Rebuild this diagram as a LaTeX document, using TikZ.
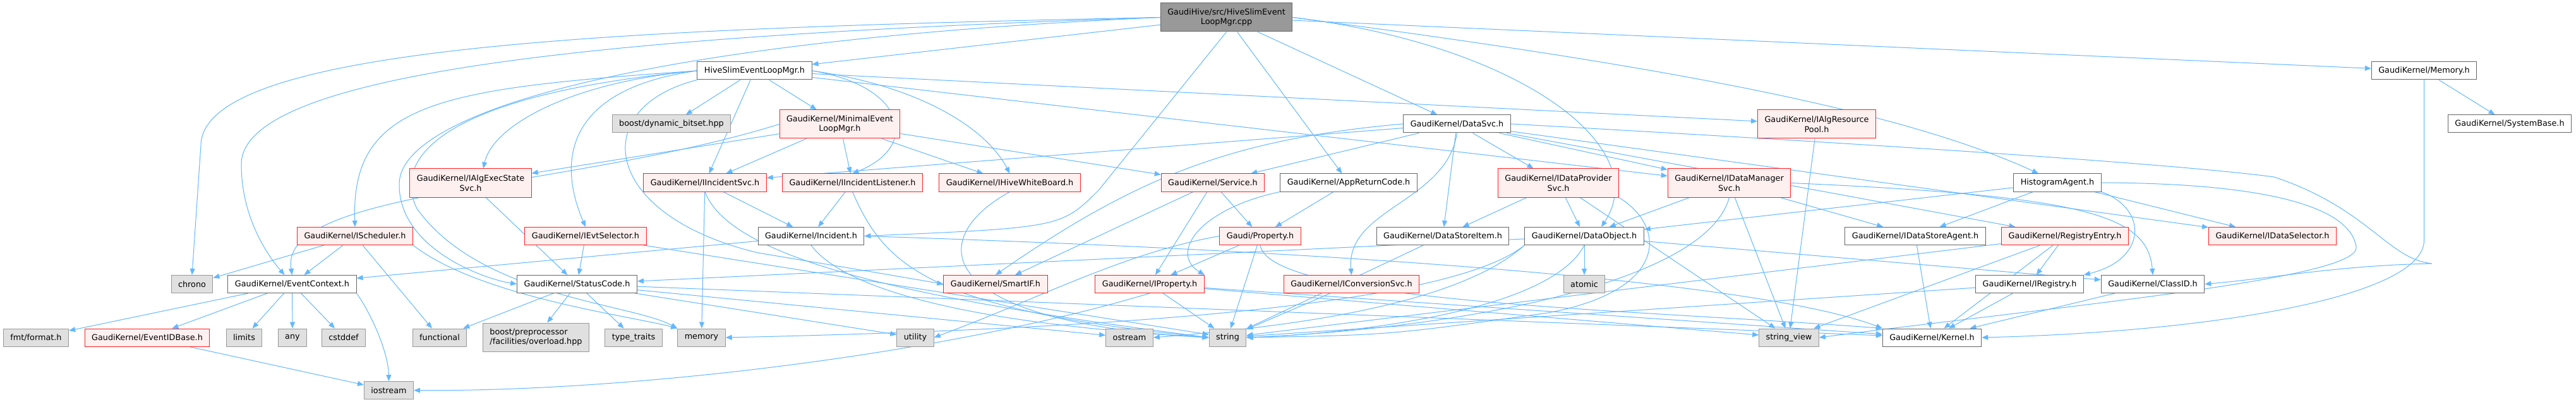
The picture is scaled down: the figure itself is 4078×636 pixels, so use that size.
\documentclass[tikz,border=0pt]{standalone}
\usepackage{fontspec}
\setmainfont{DejaVu Sans}
\usetikzlibrary{arrows.meta,backgrounds}
\definecolor{depblue}{HTML}{63B8FF}
\definecolor{truncline}{HTML}{FF2020}
\definecolor{truncfill}{HTML}{FFF0F0}
\definecolor{sysfill}{HTML}{E0E0E0}
\definecolor{sysline}{HTML}{999999}
\definecolor{hdrline}{HTML}{666666}

\begin{document}
\begin{tikzpicture}[x=1pt,y=1pt,
    box/.style={draw,rectangle,line width=1pt,minimum height=28pt,
                inner xsep=11pt,inner ysep=3pt,align=center,
                font=\fontsize{12.8}{15.5}\selectfont},
    twoline/.style={minimum height=45pt},
    mainf/.style={box,fill=sysline,draw=hdrline},
    hdr/.style={box,fill=white,draw=hdrline},
    trunc/.style={box,fill=truncfill,draw=truncline},
    sys/.style={box,fill=sysfill,draw=sysline},
    dep/.style={draw=depblue,line width=1pt,-{Triangle[length=10pt,width=8pt]}}]
  % rows of the include graph
  \node[mainf,twoline] (cpp) at (1941.5,-27.5) {GaudiHive/src/HiveSlimEvent\\LoopMgr.cpp};
  \node[hdr] (hive) at (1194.5,-112) {HiveSlimEventLoopMgr.h};
  \node[hdr] (memh) at (3837.5,-112) {GaudiKernel/Memory.h};
  \node[sys] (bitset) at (1063,-196) {boost/dynamic\_bitset.hpp};
  \node[trunc,twoline] (minimal) at (1329.5,-196.5) {GaudiKernel/MinimalEvent\\LoopMgr.h};
  \node[hdr] (datasvc) at (2306.5,-196) {GaudiKernel/DataSvc.h};
  \node[trunc,twoline] (algpool) at (2876,-196.5) {GaudiKernel/IAlgResource\\Pool.h};
  \node[hdr] (sysbase) at (3973,-196) {GaudiKernel/SystemBase.h};
  \node[trunc,twoline] (algexec) at (745,-289.5) {GaudiKernel/IAlgExecState\\Svc.h};
  \node[trunc] (incsvc) at (1116,-289) {GaudiKernel/IIncidentSvc.h};
  \node[trunc] (inclist) at (1349.5,-289) {GaudiKernel/IIncidentListener.h};
  \node[trunc] (wboard) at (1598.5,-289) {GaudiKernel/IHiveWhiteBoard.h};
  \node[trunc] (service) at (1920,-289) {GaudiKernel/Service.h};
  \node[hdr] (appret) at (2135,-289) {GaudiKernel/AppReturnCode.h};
  \node[trunc,twoline] (dataprov) at (2467,-289.5) {GaudiKernel/IDataProvider\\Svc.h};
  \node[trunc,twoline] (datamgr) at (2737.5,-289.5) {GaudiKernel/IDataManager\\Svc.h};
  \node[hdr] (histagent) at (3257,-289) {HistogramAgent.h};
  \node[trunc] (sched) at (562,-373.5) {GaudiKernel/IScheduler.h};
  \node[trunc] (evtsel) at (927,-373.5) {GaudiKernel/IEvtSelector.h};
  \node[hdr] (incident) at (1284,-373.5) {GaudiKernel/Incident.h};
  \node[trunc] (prop) at (1995,-373.5) {Gaudi/Property.h};
  \node[hdr] (storeitem) at (2284,-373.5) {GaudiKernel/DataStoreItem.h};
  \node[hdr] (dataobj) at (2508,-373.5) {GaudiKernel/DataObject.h};
  \node[hdr] (storeagent) at (3032,-373.5) {GaudiKernel/IDataStoreAgent.h};
  \node[trunc] (regentry) at (3269,-373.5) {GaudiKernel/RegistryEntry.h};
  \node[trunc] (datasel) at (3597.5,-373.5) {GaudiKernel/IDataSelector.h};
  \node[sys] (chrono) at (304,-449.5) {chrono};
  \node[hdr] (evctx) at (462.5,-449.5) {GaudiKernel/EventContext.h};
  \node[hdr] (stcode) at (913.5,-449.5) {GaudiKernel/StatusCode.h};
  \node[trunc] (smartif) at (1576,-449.5) {GaudiKernel/SmartIF.h};
  \node[trunc] (iprop) at (1820,-449.5) {GaudiKernel/IProperty.h};
  \node[trunc] (convsvc) at (2139.5,-449.5) {GaudiKernel/IConversionSvc.h};
  \node[sys] (atomic) at (2508,-449.5) {atomic};
  \node[hdr] (iregistry) at (3213,-449.5) {GaudiKernel/IRegistry.h};
  \node[hdr] (classid) at (3408,-449.5) {GaudiKernel/ClassID.h};
  \node[sys] (fmt) at (57,-534) {fmt/format.h};
  \node[trunc] (evidbase) at (233,-534) {GaudiKernel/EventIDBase.h};
  \node[sys] (limits) at (386.5,-534) {limits};
  \node[sys] (any) at (463,-534) {any};
  \node[sys] (cstddef) at (544,-534) {cstddef};
  \node[sys] (functional) at (696,-534) {functional};
  \node[sys,twoline,align=left] (boostpp) at (848.5,-533.5) {boost/preprocessor\\/facilities/overload.hpp};
  \node[sys] (typetraits) at (1003,-534) {type\_traits};
  \node[sys] (memory) at (1110.5,-534) {memory};
  \node[sys] (utility) at (1449,-534) {utility};
  \node[sys] (ostream) at (1788,-534) {ostream};
  \node[sys] (string) at (1943.5,-534) {string};
  \node[sys] (strview) at (2832,-534) {string\_view};
  \node[hdr] (kernel) at (3058.5,-534) {GaudiKernel/Kernel.h};
  \node[sys] (iostream) at (615.5,-617.5) {iostream};

  \begin{scope}[on background layer]
  \path[fill=white] (0,0) rectangle (4078,-636);
  % straight dependencies
  \foreach \a/\b in {cpp/hive,cpp/appret,cpp/datasvc,cpp/memh,
      hive/bitset,hive/minimal,hive/incsvc,hive/datamgr,hive/algpool,
      minimal/algexec,minimal/incsvc,minimal/inclist,minimal/wboard,minimal/service,
      algexec/stcode,sched/chrono,sched/evctx,sched/functional,
      evctx/fmt,evctx/evidbase,evctx/limits,evctx/any,evctx/cstddef,evidbase/iostream,
      evtsel/stcode,evtsel/string,
      stcode/functional,stcode/boostpp,stcode/typetraits,stcode/utility,stcode/ostream,stcode/kernel,
      incsvc/incident,incsvc/memory,inclist/incident,incident/evctx,
      service/smartif,service/iprop,service/prop,appret/prop,
      prop/iprop,prop/string,iprop/string,iprop/strview,iprop/kernel,convsvc/string,
      datasvc/incsvc,datasvc/service,datasvc/storeitem,datasvc/dataprov,datasvc/datamgr,
      datasvc/regentry,datasvc/datasel,storeitem/string,
      dataprov/storeitem,dataprov/dataobj,dataprov/strview,
      dataobj/atomic,dataobj/classid,dataobj/stcode,
      datamgr/dataobj,datamgr/storeagent,datamgr/strview,storeagent/kernel,
      regentry/iregistry,regentry/kernel,regentry/strview,regentry/string,
      iregistry/kernel,iregistry/string,classid/kernel,
      histagent/dataobj,histagent/storeagent,histagent/datasel,
      memh/sysbase,algpool/strview}
    \draw[dep] (\a) -- (\b);

  % curved dependencies
  \draw[dep] (cpp.west) .. controls (1000,-45) and (320,-70) .. (318,-230) -- (chrono.north);
  \draw[dep] (cpp.west) .. controls (1000,-55) and (382,-110) .. (382,-260)
             .. controls (382,-340) and (420,-400) .. ([xshift=-12pt]evctx.north);
  \draw[dep] (cpp.west) .. controls (1000,-65) and (635,-180) .. (632,-290)
             .. controls (630,-390) and (760,-440) .. (stcode.west);
  \draw[dep] (cpp.south) -- (1740,-300) .. controls (1680,-360) .. (incident.east);
  \draw[dep] (cpp.east) .. controls (2400,-70) and (2620,-230) .. ([xshift=27pt]dataobj.north);
  \draw[dep] (cpp.east) .. controls (2600,-100) and (3000,-170) .. ([xshift=-30pt]histagent.north);
  \draw[dep] (hive.west) .. controls (900,-130) and (780,-200) .. ([xshift=20pt]algexec.north);
  \draw[dep] (hive.west) .. controls (700,-140) and (555,-160) .. (sched.north);
  \draw[dep] (hive.west) .. controls (700,-150) and (620,-250) .. (660,-330)
             .. controls (760,-470) and (1000,-480) .. (memory.north west);
  \draw[dep] (hive.west) .. controls (900,-140) and (880,-250) .. (evtsel.north);
  \draw[dep] (hive.south west) .. controls (930,-170) and (950,-340) .. (1200,-400)
             .. controls (1380,-430) .. (smartif.west);
  \draw[dep] (hive.east) .. controls (1430,-135) and (1460,-230) .. (inclist.north);
  \draw[dep] (hive.east) .. controls (1450,-135) and (1560,-200) .. (wboard.north);
  \draw[dep] (minimal.west) .. controls (900,-300) and (440,-300) .. (evctx.north);
  \draw[dep] (sched.south east) .. controls (760,-470) and (1000,-500) .. (memory.north west);
  \draw[dep] (evctx.south east) .. controls (590,-500) and (615,-560) .. (iostream.north);
  \draw[dep] (incsvc.south) .. controls (1160,-420) and (1500,-480) .. (string.west);
  \draw[dep] (inclist.south) .. controls (1400,-420) and (1470,-490) .. (string.west);
  \draw[dep] (incident.south) .. controls (1330,-450) and (1500,-510) .. (string.west);
  \draw[dep] (incident.east) .. controls (2200,-400) and (2800,-450) .. (kernel.north west);
  \draw[dep] (wboard.south) .. controls (1460,-380) and (1480,-510) .. (string.west);
  \draw[dep] (appret.south west) .. controls (1900,-330) and (1850,-400) .. (iprop.north east);
  \draw[dep] (prop.west) .. controls (1780,-400) and (1650,-470) .. (utility.east);
  \draw[dep] (prop.south) .. controls (2010,-480) and (2600,-490) .. (kernel.north west);
  \draw[dep] (iprop.south) .. controls (1500,-560) and (1000,-620) .. (iostream.east);
  \draw[dep] (datasvc.west) .. controls (1950,-220) and (1800,-280) .. (smartif.north);
  \draw[dep] (datasvc.south) .. controls (2290,-320) and (2130,-330) .. (convsvc.north);
  \draw[dep] (datasvc.east) .. controls (3000,-230) and (3450,-260) .. (3600,-280)
             .. controls (3750,-330) and (3780,-410) .. (3850,-417)
             .. controls (3700,-420) and (3600,-440) .. (classid.east);
  \draw[dep] (dataprov.south east) .. controls (2640,-360) and (2640,-460) .. (2450,-495)
             .. controls (2200,-530) .. (string.east);
  \draw[dep] (dataobj.south west) .. controls (2300,-480) and (1800,-520) .. (memory.east);
  \draw[dep] (dataobj.south west) .. controls (2300,-490) and (2000,-520) .. (ostream.east);
  \draw[dep] (dataobj.south) .. controls (2450,-500) and (2100,-530) .. (string.east);
  \draw[dep] (datamgr.south) .. controls (2700,-450) and (2300,-520) .. (string.east);
  \draw[dep] (datamgr.east) .. controls (3300,-310) and (3400,-340) .. (classid.north);
  \draw[dep] (histagent.south east) .. controls (3400,-330) and (3400,-410) .. (iregistry.north east);
  \draw[dep] (histagent.east) .. controls (3600,-290) and (3720,-330) .. (3730,-390)
             .. controls (3740,-440) and (3300,-480) .. (strview.east);
  \draw[dep] (memh.south) -- (3837.5,-380) .. controls (3837.5,-470) and (3500,-525) .. (kernel.east);
  \end{scope}
\end{tikzpicture}
\end{document}
